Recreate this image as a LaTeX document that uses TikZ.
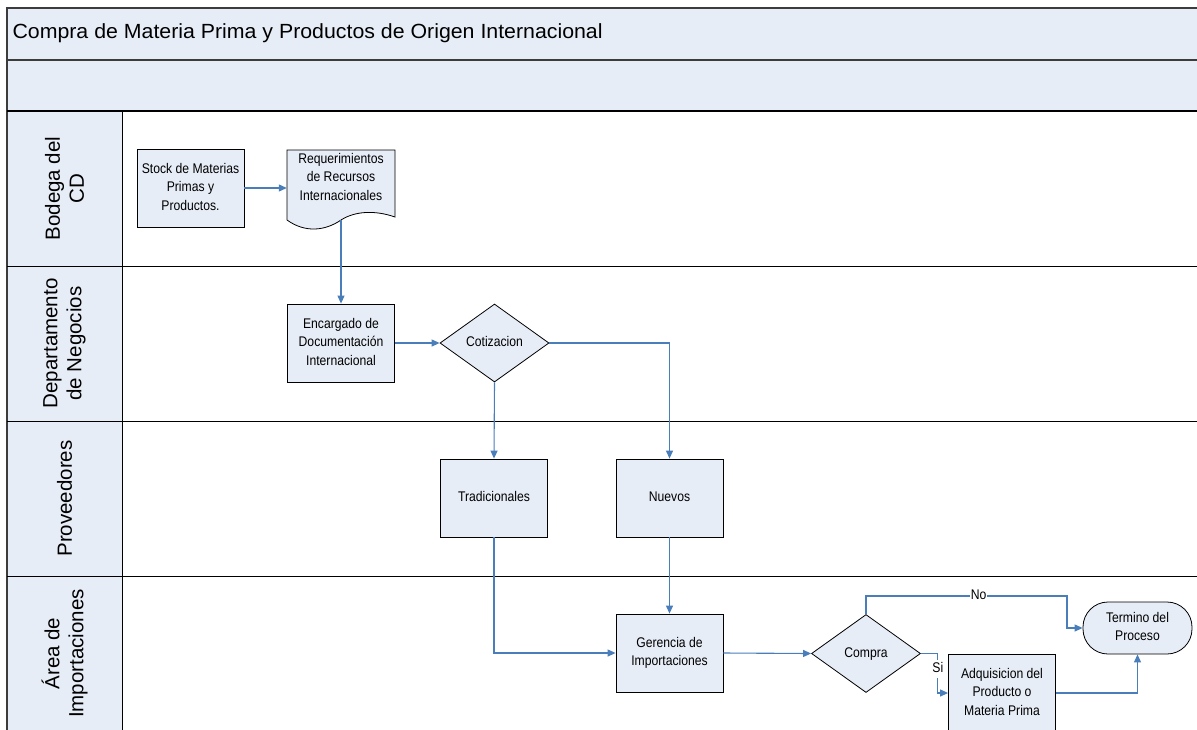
\documentclass[tikz,border=0pt]{standalone}
\usepackage{fontspec}
\usepackage{graphicx}
\setmainfont{Liberation Sans}
\usetikzlibrary{arrows.meta,shapes.geometric}
\definecolor{paleblue}{HTML}{E7EDF7}
\definecolor{flowblue}{HTML}{4A7EBB}
\definecolor{rule}{HTML}{3C3C3C}
% narrow multi-line text for the flow boxes
\newcommand\bx[1]{\scalebox{0.87}[1]{\begin{tabular}{@{}c@{}}#1\end{tabular}}}
\begin{document}
\begin{tikzpicture}[x=1pt,y=-1pt,
  frame/.style={draw=rule,line width=1.1pt},
  lane/.style={rotate=90,align=center,font=\fontsize{20.5}{24}\selectfont},
  proc/.style={draw=black,line width=0.8pt,fill=paleblue,minimum width=107,minimum height=78,inner sep=0pt,font=\fontsize{14}{18.5}\selectfont},
  decision/.style={diamond,aspect=1.4,draw=black,line width=0.8pt,fill=paleblue,minimum width=109,minimum height=78,inner sep=0pt,font=\fontsize{14}{18.5}\selectfont},
  terminal/.style={draw=black,line width=0.8pt,fill=paleblue,rounded corners=25pt,minimum width=109,minimum height=52,inner sep=0pt,font=\fontsize{14}{18.5}\selectfont},
  flow/.style={draw=flowblue,line width=1.1pt,-{Triangle[length=8pt,width=7pt]}},
  lbl/.style={fill=white,inner sep=1pt,font=\fontsize{14}{16}\selectfont}]
\useasboundingbox (0,0) rectangle (1197,729);
\clip (0,0) rectangle (1197,729);

% header bands and lane label column
\fill[paleblue] (7,8) rectangle (1210,111);
\fill[paleblue] (7,111) rectangle (122,745);
\draw[frame] (1210,8) -- (7,8) -- (7,745);
\draw[frame] (7,60) -- (1210,60);
\draw[frame,draw=black] (7,111) -- (1210,111);
\draw[draw=black,line width=0.8pt] (122,111) -- (122,745);
\foreach \yy in {266,421,576}
  \draw[draw=black,line width=0.8pt] (7,\yy) -- (1210,\yy);

\node[anchor=west,font=\fontsize{20.5}{24}\selectfont] (title) at (9,33)
  {\scalebox{1.04}[1]{Compra de Materia Prima y Productos de Origen Internacional}};

% lane names
\node[lane] (l1) at (64.5,188.5) {Bodega del\\CD};
\node[lane] (l2) at (64.5,343.5) {Departamento\\de Negocios};
\node[lane] (l3) at (64.5,498.5) {Proveedores};
\node[lane] (l4) at (64.5,653.5) {Área de\\Importaciones};

% flow shapes
\node[proc] (stock) at (190.5,188) {\bx{Stock de Materias\\Primas y\\Productos.}};
\draw[draw=black,line width=0.8pt,fill=paleblue]
  (287,150) -- (395,150) -- (395,217)
  .. controls (375,210) and (355,211) .. (341,220)
  .. controls (325,231) and (305,233) .. (287,220) -- cycle;
\node[minimum width=108,minimum height=56,inner sep=0pt,font=\fontsize{14}{18.5}\selectfont] (req) at (341,178)
  {\bx{Requerimientos\\de Recursos\\Internacionales}};
\coordinate (reqbot) at (341,220);
\node[proc] (enc) at (341,343) {\bx{Encargado de\\Documentación\\Internacional}};
\node[decision] (cot) at (494.5,343) {\bx{Cotizacion}};
\node[proc] (trad) at (494,498) {\bx{Tradicionales}};
\node[proc] (nue) at (669.5,498) {\bx{Nuevos}};
\node[proc] (ger) at (669.5,653) {\bx{Gerencia de\\Importaciones}};
\node[decision] (com) at (866,653.5) {\bx{Compra}};
\node[terminal] (term) at (1137.5,628) {\bx{Termino del\\Proceso}};
\node[proc] (adq) at (1002,693) {\bx{Adquisicion del\\Producto o\\Materia Prima}};
\coordinate (noturn) at (1067,596);

% connectors
\draw[flow] (stock.east) -- (stock.east -| req.west);
\draw[flow] (reqbot) -- (enc.north);
\draw[flow] (enc.east) -- (cot.west);
\draw[flow] (cot.south) -- (trad.north);
\draw[flow] (cot.east) -| (nue.north);
\draw[flow] (trad.south) |- (ger.west);
\draw[flow] (nue.south) -- (ger.north);
\draw[flow] (ger.east) -- (com.west);
\draw[flow] (com.north) |- node[lbl,pos=0.78] (no) {\bx{No}} (noturn) |- (term.west);
\draw[flow] (com.east) -- ++(17,0) |- node[lbl,pos=0.2] (si) {\bx{Si}} (adq.west);
\draw[flow] (adq.east) -| (term.south);
\end{tikzpicture}
\end{document}
